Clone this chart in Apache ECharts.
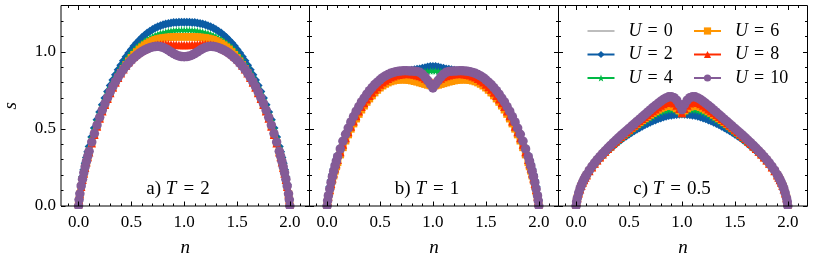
<!DOCTYPE html>
<html><head><meta charset="utf-8">
<script src="https://cdn.jsdelivr.net/npm/echarts@6/dist/echarts.min.js"></script>
<style>html,body{margin:0;padding:0;background:#fff}#c{width:814px;height:262px}</style>
</head><body><div id="c"></div>
<script>
// ---------------- data ----------------
const nValues = [0, 0.025, 0.05, 0.075, 0.1, 0.125, 0.15, 0.175, 0.2, 0.225, 0.25, 0.275, 0.3, 0.325, 0.35, 0.375, 0.4, 0.425, 0.45, 0.475, 0.5, 0.525, 0.55, 0.575, 0.6, 0.625, 0.65, 0.675, 0.7, 0.725, 0.75, 0.775, 0.8, 0.825, 0.85, 0.875, 0.9, 0.925, 0.95, 0.975, 1, 1.025, 1.05, 1.075, 1.1, 1.125, 1.15, 1.175, 1.2, 1.225, 1.25, 1.275, 1.3, 1.325, 1.35, 1.375, 1.4, 1.425, 1.45, 1.475, 1.5, 1.525, 1.55, 1.575, 1.6, 1.625, 1.65, 1.675, 1.7, 1.725, 1.75, 1.775, 1.8, 1.825, 1.85, 1.875, 1.9, 1.925, 1.95, 1.975, 2];
// extra points read near the band edges (n close to 0 and 2)
const nEdge = [0.005, 0.0125, 0.0375, 0.0625, 0.0875, 1.9125, 1.9375, 1.9625, 1.9875, 1.995];

// panel a) T = 2
const sT2U0 = [0, 0.145, 0.24, 0.32, 0.39, 0.453, 0.511, 0.565, 0.615, 0.662, 0.706, 0.747, 0.786, 0.822, 0.856, 0.888, 0.918, 0.946, 0.972, 0.997, 1.02, 1.042, 1.062, 1.081, 1.098, 1.113, 1.127, 1.14, 1.151, 1.161, 1.17, 1.177, 1.183, 1.188, 1.192, 1.195, 1.197, 1.199, 1.2, 1.2, 1.2,
  1.2, 1.2, 1.199, 1.197, 1.195, 1.192, 1.188, 1.183, 1.177, 1.17, 1.161, 1.151, 1.14, 1.127, 1.113, 1.098, 1.081, 1.062, 1.042, 1.02, 0.997, 0.972, 0.946, 0.918, 0.888, 0.856, 0.822, 0.786, 0.747, 0.706, 0.662, 0.615, 0.565, 0.511, 0.453, 0.39, 0.32, 0.24, 0.145, 0];
const sT2U2 = [0, 0.14, 0.235, 0.315, 0.385, 0.448, 0.506, 0.56, 0.61, 0.657, 0.701, 0.742, 0.781, 0.817, 0.851, 0.883, 0.913, 0.941, 0.967, 0.992, 1.015, 1.037, 1.057, 1.075, 1.092, 1.107, 1.121, 1.133, 1.144, 1.154, 1.162, 1.169, 1.175, 1.18, 1.184, 1.187, 1.189, 1.19, 1.191, 1.191, 1.191,
  1.191, 1.191, 1.19, 1.189, 1.187, 1.184, 1.18, 1.175, 1.169, 1.162, 1.154, 1.144, 1.133, 1.121, 1.107, 1.092, 1.075, 1.057, 1.037, 1.015, 0.992, 0.967, 0.941, 0.913, 0.883, 0.851, 0.817, 0.781, 0.742, 0.701, 0.657, 0.61, 0.56, 0.506, 0.448, 0.385, 0.315, 0.235, 0.14, 0];
const sT2U4 = [0, 0.137, 0.23, 0.31, 0.378, 0.44, 0.497, 0.55, 0.599, 0.645, 0.688, 0.728, 0.766, 0.801, 0.834, 0.865, 0.894, 0.921, 0.946, 0.969, 0.99, 1.009, 1.026, 1.042, 1.056, 1.069, 1.08, 1.09, 1.099, 1.107, 1.114, 1.12, 1.125, 1.129, 1.133, 1.136, 1.138, 1.14, 1.141, 1.142, 1.142,
  1.142, 1.141, 1.14, 1.138, 1.136, 1.133, 1.129, 1.125, 1.12, 1.114, 1.107, 1.099, 1.09, 1.08, 1.069, 1.056, 1.042, 1.026, 1.009, 0.99, 0.969, 0.946, 0.921, 0.894, 0.865, 0.834, 0.801, 0.766, 0.728, 0.688, 0.645, 0.599, 0.55, 0.497, 0.44, 0.378, 0.31, 0.23, 0.137, 0];
const sT2U6 = [0, 0.125, 0.21, 0.285, 0.35, 0.41, 0.465, 0.518, 0.57, 0.615, 0.658, 0.698, 0.735, 0.77, 0.803, 0.834, 0.863, 0.89, 0.915, 0.939, 0.961, 0.981, 0.999, 1.016, 1.03, 1.043, 1.054, 1.063, 1.071, 1.078, 1.083, 1.087, 1.09, 1.092, 1.094, 1.095, 1.096, 1.097, 1.097, 1.097, 1.097,
  1.097, 1.097, 1.097, 1.096, 1.095, 1.094, 1.092, 1.09, 1.087, 1.083, 1.078, 1.071, 1.063, 1.054, 1.043, 1.03, 1.016, 0.999, 0.981, 0.961, 0.939, 0.915, 0.89, 0.863, 0.834, 0.803, 0.77, 0.735, 0.698, 0.658, 0.615, 0.57, 0.518, 0.465, 0.41, 0.35, 0.285, 0.21, 0.125, 0];
const sT2U8 = [0, 0.125, 0.21, 0.283, 0.348, 0.407, 0.462, 0.515, 0.568, 0.614, 0.656, 0.695, 0.733, 0.768, 0.801, 0.832, 0.861, 0.887, 0.911, 0.933, 0.953, 0.97, 0.985, 0.998, 1.009, 1.018, 1.026, 1.033, 1.038, 1.042, 1.045, 1.047, 1.048, 1.048, 1.048, 1.047, 1.046, 1.045, 1.044, 1.044, 1.044,
  1.044, 1.044, 1.045, 1.046, 1.047, 1.048, 1.048, 1.048, 1.047, 1.045, 1.042, 1.038, 1.033, 1.026, 1.018, 1.009, 0.998, 0.985, 0.97, 0.953, 0.933, 0.911, 0.887, 0.861, 0.832, 0.801, 0.768, 0.733, 0.695, 0.656, 0.614, 0.568, 0.515, 0.462, 0.407, 0.348, 0.283, 0.21, 0.125, 0];
const sT2U10 = [0, 0.13, 0.215, 0.29, 0.355, 0.415, 0.47, 0.525, 0.575, 0.622, 0.664, 0.703, 0.74, 0.775, 0.806, 0.835, 0.862, 0.886, 0.908, 0.928, 0.946, 0.962, 0.977, 0.99, 1.001, 1.011, 1.019, 1.026, 1.031, 1.034, 1.035, 1.033, 1.028, 1.02, 1.01, 0.999, 0.988, 0.979, 0.973, 0.969, 0.968,
  0.969, 0.973, 0.979, 0.988, 0.999, 1.01, 1.02, 1.028, 1.033, 1.035, 1.034, 1.031, 1.026, 1.019, 1.011, 1.001, 0.99, 0.977, 0.962, 0.946, 0.928, 0.908, 0.886, 0.862, 0.835, 0.806, 0.775, 0.74, 0.703, 0.664, 0.622, 0.575, 0.525, 0.47, 0.415, 0.355, 0.29, 0.215, 0.13, 0];
const eT2U0 = [0.045, 0.088, 0.195, 0.282, 0.356, 0.356, 0.282, 0.195, 0.088, 0.045];
const eT2U2 = [0.043, 0.085, 0.19, 0.277, 0.351, 0.351, 0.277, 0.19, 0.085, 0.043];
const eT2U4 = [0.042, 0.083, 0.186, 0.272, 0.345, 0.345, 0.272, 0.186, 0.083, 0.042];
const eT2U6 = [0.038, 0.076, 0.17, 0.249, 0.319, 0.319, 0.249, 0.17, 0.076, 0.038];
const eT2U8 = [0.038, 0.076, 0.17, 0.248, 0.317, 0.317, 0.248, 0.17, 0.076, 0.038];
const eT2U10 = [0.04, 0.079, 0.174, 0.254, 0.324, 0.324, 0.254, 0.174, 0.079, 0.04];

// panel b) T = 1
const sT1U0 = [0, 0.128, 0.208, 0.275, 0.333, 0.383, 0.429, 0.471, 0.51, 0.546, 0.58, 0.61, 0.638, 0.664, 0.688, 0.71, 0.73, 0.749, 0.766, 0.782, 0.797, 0.81, 0.822, 0.833, 0.843, 0.852, 0.859, 0.865, 0.87, 0.874, 0.877, 0.88, 0.883, 0.886, 0.889, 0.892, 0.896, 0.9, 0.904, 0.907, 0.908,
  0.907, 0.904, 0.9, 0.896, 0.892, 0.889, 0.886, 0.883, 0.88, 0.877, 0.874, 0.87, 0.865, 0.859, 0.852, 0.843, 0.833, 0.822, 0.81, 0.797, 0.782, 0.766, 0.749, 0.73, 0.71, 0.688, 0.664, 0.638, 0.61, 0.58, 0.546, 0.51, 0.471, 0.429, 0.383, 0.333, 0.275, 0.208, 0.128, 0];
const sT1U2 = [0, 0.125, 0.205, 0.272, 0.33, 0.38, 0.426, 0.468, 0.507, 0.543, 0.577, 0.607, 0.635, 0.661, 0.685, 0.707, 0.727, 0.746, 0.763, 0.779, 0.794, 0.807, 0.819, 0.83, 0.84, 0.849, 0.856, 0.862, 0.867, 0.871, 0.874, 0.877, 0.88, 0.883, 0.886, 0.889, 0.893, 0.897, 0.901, 0.904, 0.905,
  0.904, 0.901, 0.897, 0.893, 0.889, 0.886, 0.883, 0.88, 0.877, 0.874, 0.871, 0.867, 0.862, 0.856, 0.849, 0.84, 0.83, 0.819, 0.807, 0.794, 0.779, 0.763, 0.746, 0.727, 0.707, 0.685, 0.661, 0.635, 0.607, 0.577, 0.543, 0.507, 0.468, 0.426, 0.38, 0.33, 0.272, 0.205, 0.125, 0];
const sT1U4 = [0, 0.12, 0.2, 0.268, 0.326, 0.376, 0.421, 0.462, 0.5, 0.536, 0.569, 0.6, 0.628, 0.654, 0.678, 0.7, 0.72, 0.739, 0.756, 0.772, 0.786, 0.799, 0.811, 0.821, 0.83, 0.838, 0.845, 0.851, 0.856, 0.86, 0.863, 0.865, 0.867, 0.868, 0.869, 0.87, 0.871, 0.872, 0.874, 0.875, 0.876,
  0.875, 0.874, 0.872, 0.871, 0.87, 0.869, 0.868, 0.867, 0.865, 0.863, 0.86, 0.856, 0.851, 0.845, 0.838, 0.83, 0.821, 0.811, 0.799, 0.786, 0.772, 0.756, 0.739, 0.72, 0.7, 0.678, 0.654, 0.628, 0.6, 0.569, 0.536, 0.5, 0.462, 0.421, 0.376, 0.326, 0.268, 0.2, 0.12, 0];
const sT1U6 = [0, 0.095, 0.165, 0.228, 0.283, 0.333, 0.38, 0.423, 0.463, 0.5, 0.534, 0.566, 0.596, 0.624, 0.65, 0.674, 0.696, 0.716, 0.735, 0.752, 0.767, 0.78, 0.791, 0.8, 0.807, 0.812, 0.816, 0.818, 0.819, 0.819, 0.818, 0.816, 0.813, 0.809, 0.805, 0.8, 0.795, 0.79, 0.785, 0.781, 0.78,
  0.781, 0.785, 0.79, 0.795, 0.8, 0.805, 0.809, 0.813, 0.816, 0.818, 0.819, 0.819, 0.818, 0.816, 0.812, 0.807, 0.8, 0.791, 0.78, 0.767, 0.752, 0.735, 0.716, 0.696, 0.674, 0.65, 0.624, 0.596, 0.566, 0.534, 0.5, 0.463, 0.423, 0.38, 0.333, 0.283, 0.228, 0.165, 0.095, 0];
const sT1U8 = [0, 0.105, 0.18, 0.245, 0.3, 0.35, 0.398, 0.441, 0.48, 0.516, 0.55, 0.583, 0.614, 0.643, 0.668, 0.692, 0.715, 0.736, 0.755, 0.772, 0.788, 0.802, 0.814, 0.825, 0.834, 0.841, 0.847, 0.851, 0.854, 0.856, 0.857, 0.857, 0.855, 0.852, 0.848, 0.843, 0.836, 0.827, 0.817, 0.807, 0.8,
  0.807, 0.817, 0.827, 0.836, 0.843, 0.848, 0.852, 0.855, 0.857, 0.857, 0.856, 0.854, 0.851, 0.847, 0.841, 0.834, 0.825, 0.814, 0.802, 0.788, 0.772, 0.755, 0.736, 0.715, 0.692, 0.668, 0.643, 0.614, 0.583, 0.55, 0.516, 0.48, 0.441, 0.398, 0.35, 0.3, 0.245, 0.18, 0.105, 0];
const sT1U10 = [0, 0.11, 0.19, 0.26, 0.32, 0.37, 0.42, 0.465, 0.505, 0.545, 0.58, 0.615, 0.645, 0.675, 0.7, 0.725, 0.748, 0.768, 0.787, 0.803, 0.818, 0.832, 0.843, 0.852, 0.86, 0.866, 0.871, 0.874, 0.876, 0.877, 0.877, 0.876, 0.875, 0.874, 0.872, 0.867, 0.855, 0.837, 0.815, 0.79, 0.765,
  0.79, 0.815, 0.837, 0.855, 0.867, 0.872, 0.874, 0.875, 0.876, 0.877, 0.877, 0.876, 0.874, 0.871, 0.866, 0.86, 0.852, 0.843, 0.832, 0.818, 0.803, 0.787, 0.768, 0.748, 0.725, 0.7, 0.675, 0.645, 0.615, 0.58, 0.545, 0.505, 0.465, 0.42, 0.37, 0.32, 0.26, 0.19, 0.11, 0];
const eT1U0 = [0.04, 0.078, 0.17, 0.243, 0.305, 0.305, 0.243, 0.17, 0.078, 0.04];
const eT1U2 = [0.039, 0.076, 0.167, 0.24, 0.302, 0.302, 0.24, 0.167, 0.076, 0.039];
const eT1U4 = [0.037, 0.073, 0.162, 0.235, 0.298, 0.298, 0.235, 0.162, 0.073, 0.037];
const eT1U6 = [0.029, 0.057, 0.131, 0.197, 0.256, 0.256, 0.197, 0.131, 0.057, 0.029];
const eT1U8 = [0.032, 0.063, 0.144, 0.213, 0.273, 0.273, 0.213, 0.144, 0.063, 0.032];
const eT1U10 = [0.034, 0.067, 0.152, 0.226, 0.291, 0.291, 0.226, 0.152, 0.067, 0.034];

// panel c) T = 0.5
const sT05U0 = [0, 0.079, 0.126, 0.163, 0.194, 0.221, 0.245, 0.267, 0.287, 0.306, 0.324, 0.341, 0.357, 0.372, 0.387, 0.401, 0.414, 0.427, 0.44, 0.452, 0.463, 0.474, 0.485, 0.495, 0.505, 0.514, 0.523, 0.532, 0.54, 0.548, 0.555, 0.562, 0.568, 0.574, 0.579, 0.584, 0.588, 0.591, 0.593, 0.595, 0.596,
  0.595, 0.593, 0.591, 0.588, 0.584, 0.579, 0.574, 0.568, 0.562, 0.555, 0.548, 0.54, 0.532, 0.523, 0.514, 0.505, 0.495, 0.485, 0.474, 0.463, 0.452, 0.44, 0.427, 0.414, 0.401, 0.387, 0.372, 0.357, 0.341, 0.324, 0.306, 0.287, 0.267, 0.245, 0.221, 0.194, 0.163, 0.126, 0.079, 0];
const sT05U2 = [0, 0.08, 0.127, 0.164, 0.195, 0.222, 0.246, 0.268, 0.288, 0.307, 0.325, 0.342, 0.358, 0.373, 0.388, 0.402, 0.416, 0.429, 0.442, 0.454, 0.466, 0.477, 0.488, 0.498, 0.508, 0.517, 0.526, 0.535, 0.543, 0.551, 0.558, 0.565, 0.571, 0.577, 0.582, 0.586, 0.589, 0.592, 0.594, 0.595, 0.596,
  0.595, 0.594, 0.592, 0.589, 0.586, 0.582, 0.577, 0.571, 0.565, 0.558, 0.551, 0.543, 0.535, 0.526, 0.517, 0.508, 0.498, 0.488, 0.477, 0.466, 0.454, 0.442, 0.429, 0.416, 0.402, 0.388, 0.373, 0.358, 0.342, 0.325, 0.307, 0.288, 0.268, 0.246, 0.222, 0.195, 0.164, 0.127, 0.08, 0];
const sT05U4 = [0, 0.081, 0.129, 0.166, 0.197, 0.224, 0.248, 0.27, 0.291, 0.311, 0.329, 0.347, 0.364, 0.38, 0.395, 0.41, 0.424, 0.438, 0.452, 0.465, 0.478, 0.491, 0.503, 0.515, 0.527, 0.538, 0.549, 0.56, 0.571, 0.581, 0.591, 0.6, 0.608, 0.615, 0.62, 0.623, 0.624, 0.622, 0.616, 0.608, 0.598,
  0.608, 0.616, 0.622, 0.624, 0.623, 0.62, 0.615, 0.608, 0.6, 0.591, 0.581, 0.571, 0.56, 0.549, 0.538, 0.527, 0.515, 0.503, 0.491, 0.478, 0.465, 0.452, 0.438, 0.424, 0.41, 0.395, 0.38, 0.364, 0.347, 0.329, 0.311, 0.291, 0.27, 0.248, 0.224, 0.197, 0.166, 0.129, 0.081, 0];
const sT05U6 = [0, 0.082, 0.131, 0.168, 0.199, 0.226, 0.25, 0.273, 0.294, 0.314, 0.333, 0.351, 0.368, 0.385, 0.401, 0.417, 0.432, 0.447, 0.461, 0.475, 0.489, 0.503, 0.516, 0.529, 0.542, 0.555, 0.567, 0.579, 0.591, 0.602, 0.613, 0.623, 0.632, 0.64, 0.646, 0.649, 0.648, 0.642, 0.632, 0.618, 0.6,
  0.618, 0.632, 0.642, 0.648, 0.649, 0.646, 0.64, 0.632, 0.623, 0.613, 0.602, 0.591, 0.579, 0.567, 0.555, 0.542, 0.529, 0.516, 0.503, 0.489, 0.475, 0.461, 0.447, 0.432, 0.417, 0.401, 0.385, 0.368, 0.351, 0.333, 0.314, 0.294, 0.273, 0.25, 0.226, 0.199, 0.168, 0.131, 0.082, 0];
const sT05U8 = [0, 0.083, 0.132, 0.169, 0.2, 0.227, 0.252, 0.275, 0.296, 0.316, 0.335, 0.353, 0.371, 0.388, 0.404, 0.42, 0.436, 0.451, 0.466, 0.481, 0.496, 0.51, 0.524, 0.538, 0.552, 0.565, 0.578, 0.591, 0.604, 0.616, 0.628, 0.64, 0.651, 0.661, 0.669, 0.674, 0.674, 0.667, 0.652, 0.63, 0.603,
  0.63, 0.652, 0.667, 0.674, 0.674, 0.669, 0.661, 0.651, 0.64, 0.628, 0.616, 0.604, 0.591, 0.578, 0.565, 0.552, 0.538, 0.524, 0.51, 0.496, 0.481, 0.466, 0.451, 0.436, 0.42, 0.404, 0.388, 0.371, 0.353, 0.335, 0.316, 0.296, 0.275, 0.252, 0.227, 0.2, 0.169, 0.132, 0.083, 0];
const sT05U10 = [0, 0.085, 0.135, 0.172, 0.204, 0.232, 0.257, 0.28, 0.301, 0.321, 0.34, 0.358, 0.376, 0.393, 0.41, 0.426, 0.442, 0.458, 0.473, 0.488, 0.503, 0.518, 0.533, 0.548, 0.563, 0.578, 0.593, 0.608, 0.623, 0.638, 0.652, 0.666, 0.679, 0.691, 0.701, 0.708, 0.709, 0.702, 0.686, 0.659, 0.625,
  0.659, 0.686, 0.702, 0.709, 0.708, 0.701, 0.691, 0.679, 0.666, 0.652, 0.638, 0.623, 0.608, 0.593, 0.578, 0.563, 0.548, 0.533, 0.518, 0.503, 0.488, 0.473, 0.458, 0.442, 0.426, 0.41, 0.393, 0.376, 0.358, 0.34, 0.321, 0.301, 0.28, 0.257, 0.232, 0.204, 0.172, 0.135, 0.085, 0];
const eT05U0 = [0.026, 0.05, 0.104, 0.146, 0.179, 0.179, 0.146, 0.104, 0.05, 0.026];
const eT05U2 = [0.026, 0.05, 0.105, 0.147, 0.18, 0.18, 0.147, 0.105, 0.05, 0.026];
const eT05U4 = [0.027, 0.051, 0.107, 0.149, 0.182, 0.182, 0.149, 0.107, 0.051, 0.027];
const eT05U6 = [0.027, 0.052, 0.108, 0.151, 0.184, 0.184, 0.151, 0.108, 0.052, 0.027];
const eT05U8 = [0.027, 0.052, 0.109, 0.152, 0.185, 0.185, 0.152, 0.109, 0.052, 0.027];
const eT05U10 = [0.028, 0.053, 0.112, 0.155, 0.189, 0.189, 0.155, 0.112, 0.053, 0.028];

const uValues = ['0', '2', '4', '6', '8', '10'];
const panelTags = ['a)', 'b)', 'c)'];
const panelTemps = ['2', '1', '0.5'];
const xTickValues = [0, 0.5, 1, 1.5, 2];
const xMinorTickValues = [-0.1, 0.1, 0.2, 0.3, 0.4, 0.6, 0.7, 0.8, 0.9, 1.1, 1.2, 1.3, 1.4, 1.6, 1.7, 1.8, 1.9, 2.1];
const yTickValues = [0, 0.5, 1];
const yMinorTickValues = [0.1, 0.2, 0.3, 0.4, 0.6, 0.7, 0.8, 0.9, 1.1, 1.2];

const panelSeries = [
  [sT2U0, sT2U2, sT2U4, sT2U6, sT2U8, sT2U10],
  [sT1U0, sT1U2, sT1U4, sT1U6, sT1U8, sT1U10],
  [sT05U0, sT05U2, sT05U4, sT05U6, sT05U8, sT05U10]
];
const panelEdges = [
  [eT2U0, eT2U2, eT2U4, eT2U6, eT2U8, eT2U10],
  [eT1U0, eT1U2, eT1U4, eT1U6, eT1U8, eT1U10],
  [eT05U0, eT05U2, eT05U4, eT05U6, eT05U8, eT05U10]
];
panelSeries.forEach(p => p.forEach(a => { if (a.length !== nValues.length) throw new Error('bad length ' + a.length); }));

// ---------------- style ----------------
const FONT = 'Liberation Serif';
const colors = ['#9e9e9e', '#0C5DA5', '#00B945', '#FF9500', '#FF2C00', '#845B97'];
const STAR = 'path://M0,-10 L2.35,-3.24 L9.51,-3.09 L3.8,1.24 L5.88,8.09 L0,4 L-5.88,8.09 L-3.8,1.24 L-9.51,-3.09 L-2.35,-3.24 Z';
const symbols = ['none', 'diamond', STAR, 'rect', 'triangle', 'circle'];
const symbolSizes = [0, 9, 7.5, 7.5, 8.5, 9.5];
const gridLefts = [60.5, 309.5, 558.5];
const GRID_TOP = 5.5, GRID_H = 203, GRID_W = 249;
const XMIN = -0.166, XMAX = 2.186, YMIN = 0, YMAX = 1.3;

const grids = [], xAxes = [], yAxes = [], series = [], graphics = [];
const tickLine = { color: '#000', width: 1 };
const noLine = { show: false, onZero: false };

gridLefts.forEach((left, p) => {
  grids.push({ left: left, top: GRID_TOP, width: GRID_W, height: GRID_H, show: true,
    borderColor: '#000', borderWidth: 1, backgroundColor: 'transparent', containLabel: false, z: 5 });
  const baseX = { type: 'value', gridIndex: p, min: XMIN, max: XMAX, splitLine: { show: false },
    axisLine: noLine, z: 6 };
  xAxes.push(Object.assign({}, baseX, {
    position: 'bottom',
    axisTick: { show: true, inside: true, length: 4.5, lineStyle: tickLine, customValues: xTickValues },
    axisLabel: { show: true, customValues: xTickValues, formatter: v => v.toFixed(1), margin: 8,
      fontFamily: FONT, fontSize: 17, color: '#000' },
    name: 'n', nameLocation: 'middle', nameGap: 32,
    nameTextStyle: { fontFamily: FONT, fontStyle: 'italic', fontSize: 19, color: '#000' }
  }));
  xAxes.push(Object.assign({}, baseX, { position: 'bottom',
    axisTick: { show: true, inside: true, length: 2.5, lineStyle: tickLine, customValues: xMinorTickValues },
    axisLabel: { show: false } }));
  xAxes.push(Object.assign({}, baseX, { position: 'top',
    axisTick: { show: true, inside: true, length: 4.5, lineStyle: tickLine, customValues: xTickValues },
    axisLabel: { show: false } }));
  xAxes.push(Object.assign({}, baseX, { position: 'top',
    axisTick: { show: true, inside: true, length: 2.5, lineStyle: tickLine, customValues: xMinorTickValues },
    axisLabel: { show: false } }));

  const baseY = { type: 'value', gridIndex: p, min: YMIN, max: YMAX, splitLine: { show: false },
    axisLine: noLine, z: 6 };
  const leftMajor = Object.assign({}, baseY, { position: 'left',
    axisTick: { show: true, inside: true, length: 4.5, lineStyle: tickLine, customValues: yTickValues },
    axisLabel: { show: p === 0, customValues: yTickValues, formatter: v => v.toFixed(1), margin: 5,
      fontFamily: FONT, fontSize: 17, color: '#000' } });
  if (p === 0) {
    leftMajor.name = 's'; leftMajor.nameLocation = 'middle'; leftMajor.nameGap = 41; leftMajor.nameRotate = 90;
    leftMajor.nameTextStyle = { fontFamily: FONT, fontStyle: 'italic', fontSize: 19, color: '#000' };
  }
  yAxes.push(leftMajor);
  yAxes.push(Object.assign({}, baseY, { position: 'left',
    axisTick: { show: true, inside: true, length: 2.5, lineStyle: tickLine, customValues: yMinorTickValues },
    axisLabel: { show: false } }));
  yAxes.push(Object.assign({}, baseY, { position: 'right',
    axisTick: { show: true, inside: true, length: 4.5, lineStyle: tickLine, customValues: yTickValues },
    axisLabel: { show: false } }));
  yAxes.push(Object.assign({}, baseY, { position: 'right',
    axisTick: { show: true, inside: true, length: 2.5, lineStyle: tickLine, customValues: yMinorTickValues },
    axisLabel: { show: false } }));

  panelSeries[p].forEach((arr, k) => {
    const edge = panelEdges[p][k];
    const pts = nValues.map((n, i) => [n, arr[i]]).concat(nEdge.map((n, i) => [n, edge[i]]));
    pts.sort((a, b) => a[0] - b[0]);
    series.push({
      type: 'line', name: 'U = ' + uValues[k], xAxisIndex: 4 * p, yAxisIndex: 4 * p,
      data: pts,
      symbol: symbols[k], symbolSize: symbolSizes[k], showSymbol: k > 0,
      lineStyle: { color: colors[k], width: 1.5 },
      itemStyle: { color: colors[k], borderWidth: 0 },
      emphasis: { disabled: true }, silent: true, animation: false, clip: true, z: 2
    });
  });

  // mask marker overflow below the x axis
  graphics.push({ type: 'rect', silent: true, z: 3,
    shape: { x: left + 0.5, y: GRID_TOP + GRID_H + 0.5, width: GRID_W - 1, height: 6 },
    style: { fill: '#fff' } });
});

const annotationCenters = [[178, 189], [427, 189], [672, 189]];
annotationCenters.forEach((c, p) => {
  graphics.push({ type: 'text', silent: true, z: 10, x: c[0], y: c[1],
    style: { text: '{r|' + panelTags[p] + '}{r| }{i|T}{e|=}{r|' + panelTemps[p] + '}',
      align: 'center', verticalAlign: 'middle', fill: '#000',
      fontFamily: FONT, fontSize: 19,
      rich: {
        r: { fontFamily: FONT, fontSize: 19, fill: '#000' },
        i: { fontFamily: FONT, fontSize: 19, fontStyle: 'italic', fill: '#000' },
        e: { fontFamily: FONT, fontSize: 19, fill: '#000', padding: [0, 6, 0, 7] }
      } } });
});

const legendRich = {
  u: { fontFamily: FONT, fontSize: 18, fontStyle: 'italic', color: '#000', padding: [0, 0, 0, 9], lineHeight: 18 },
  e: { fontFamily: FONT, fontSize: 18, color: '#000', padding: [0, 6, 0, 6], lineHeight: 18 },
  v: { fontFamily: FONT, fontSize: 18, color: '#000', lineHeight: 18 }
};
const legendBase = {
  orient: 'vertical', padding: 0, itemWidth: 27, itemHeight: 9, itemGap: 5.5, selectedMode: false,
  formatter: name => '{u|U}{e|=}{v|' + name.split('= ')[1] + '}',
  textStyle: { fontFamily: FONT, fontSize: 18, color: '#000', lineHeight: 18, rich: legendRich }
};
const legends = [
  Object.assign({}, legendBase, { left: 586.5, top: 22,
    data: [{ name: 'U = 0', icon: 'path://M0,0H30V1.5H0Z' }, 'U = 2', 'U = 4'] }),
  Object.assign({}, legendBase, { left: 693, top: 22,
    data: ['U = 6', 'U = 8', 'U = 10'] })
];

const chart = echarts.init(document.getElementById('c'), null, { renderer: 'canvas', width: 814, height: 262 });
chart.setOption({
  animation: false,
  backgroundColor: '#fff',
  textStyle: { fontFamily: FONT },
  grid: grids, xAxis: xAxes, yAxis: yAxes, series: series,
  legend: legends, graphic: graphics
});
</script>
</body></html>
